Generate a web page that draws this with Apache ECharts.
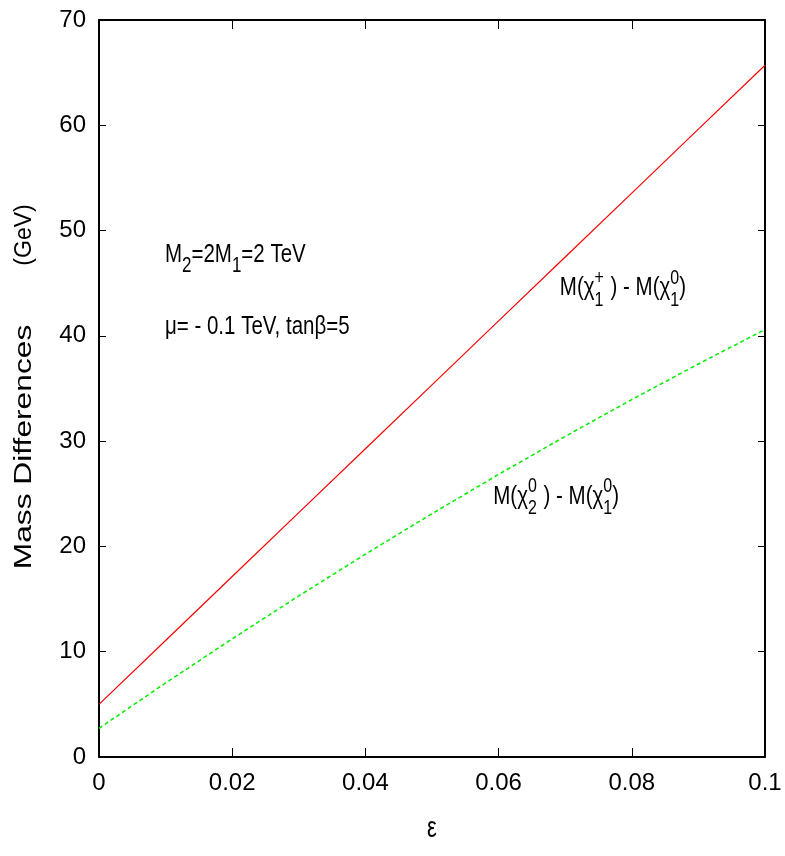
<!DOCTYPE html>
<html><head><meta charset="utf-8">
<script src="https://cdn.jsdelivr.net/npm/echarts@6/dist/echarts.min.js"></script>
<style>html,body{margin:0;padding:0;background:#fff}#c{width:785px;height:856px}</style>
</head><body><div id="c"></div>
<script>
// ---- data ----
const epsilon = [0, 0.01, 0.02, 0.03, 0.04, 0.05, 0.06, 0.07, 0.08, 0.09, 0.1];
const charginoSplit = [5.0, 11.07, 17.14, 23.21, 29.28, 35.35, 41.42, 47.49, 53.56, 59.63, 65.7];
const neutralinoSplit = [2.72, 7.03, 11.22, 15.30, 19.26, 23.11, 26.84, 30.45, 33.95, 37.33, 40.6];
const xTickLabels = ['0', '0.02', '0.04', '0.06', '0.08', '0.1'];
const yTickLabels = ['0', '10', '20', '30', '40', '50', '60', '70'];
const xName = 'ε';
const yNameMain = 'Mass Differences';
const yNameUnit = '(GeV)';

const SANS = "'Liberation Sans',Arial,Helvetica,sans-serif";
const SY = 1.3; // vertical stretch of the reference lettering

const chart = echarts.init(document.getElementById('c'), null, {renderer: 'canvas'});

const axisCommon = {
  type: 'value',
  axisLine: {show: true, onZero: false, lineStyle: {color: '#000', width: 2}},
  axisTick: {show: true, inside: true, length: 9, lineStyle: {color: '#000', width: 1}},
  splitLine: {show: false}
};

chart.setOption({
  animation: false,
  backgroundColor: '#fff',
  grid: {left: 99, right: 20, top: 20, bottom: 99, containLabel: false},
  xAxis: [
    Object.assign({}, axisCommon, {
      min: 0, max: 0.1, interval: 0.02, position: 'bottom',
      axisLabel: {margin: 14, color: '#000', fontFamily: SANS, fontSize: 24,
        formatter: v => xTickLabels[Math.round(v / 0.02)]}
    }),
    Object.assign({}, axisCommon, {
      min: 0, max: 0.1, interval: 0.02, position: 'top', axisLabel: {show: false}
    })
  ],
  yAxis: [
    Object.assign({}, axisCommon, {
      min: 0, max: 70, interval: 10, position: 'left',
      axisTick: {show: true, inside: true, length: 7, lineStyle: {color: '#000', width: 1}},
      axisLabel: {margin: 13, color: '#000', fontFamily: SANS, fontSize: 24,
        formatter: v => yTickLabels[Math.round(v / 10)]}
    }),
    Object.assign({}, axisCommon, {
      min: 0, max: 70, interval: 10, position: 'right',
      axisTick: {show: true, inside: true, length: 7, lineStyle: {color: '#000', width: 1}},
      axisLabel: {show: false}
    })
  ],
  series: [
    {
      type: 'line', name: 'chargino', xAxisIndex: 0, yAxisIndex: 0,
      data: epsilon.map((e, i) => [e, charginoSplit[i]]),
      showSymbol: false, symbol: 'none',
      lineStyle: {color: '#ff0000', width: 1.2, type: 'solid'}
    },
    {
      type: 'line', name: 'neutralino', xAxisIndex: 0, yAxisIndex: 0,
      data: epsilon.map((e, i) => [e, neutralinoSplit[i]]),
      showSymbol: false, symbol: 'none',
      lineStyle: {color: '#00ee00', width: 1.5, type: [4, 3]}
    }
  ]
});

// ---- annotations ----
const cv = document.createElement('canvas').getContext('2d');
function measure(t, size) { cv.font = size + 'px ' + SANS; return cv.measureText(t).width; }
function txt(x, baseline, t, size) {
  return {type: 'text', x: x, y: baseline - 0.33 * size * SY, scaleY: SY, silent: true,
    style: {text: t, font: size + 'px ' + SANS, fill: '#000', textAlign: 'left', textVerticalAlign: 'middle', verticalAlign: 'middle'}};
}
function buildLabel(dataPt, items, main, small, supUp, subDown) {
  const p = chart.convertToPixel({gridIndex: 0}, dataPt);
  let x = p[0]; const by = p[1];
  const els = [];
  items.forEach(it => {
    if (typeof it === 'string') {
      els.push(txt(x, by, it, main));
      x += measure(it, main);
    } else {
      let w = 0;
      if (it.sup) { els.push(txt(x, by - supUp, it.sup, small)); w = Math.max(w, measure(it.sup, small)); }
      if (it.sub) { els.push(txt(x, by + subDown, it.sub, small)); w = Math.max(w, measure(it.sub, small)); }
      x += w + (it.pad || 0);
    }
  });
  return els;
}

let graphics = [];
graphics = graphics.concat(buildLabel([0.0099, 46.9],
  ['M', {sub: '2'}, '=2M', {sub: '1'}, '=2 TeV'], 20.5, 17, 0, 10));
graphics = graphics.concat(buildLabel([0.0099, 40.0],
  ['μ= - 0.1 TeV, tanβ=5'], 20.5, 17, 0, 0));
graphics = graphics.concat(buildLabel([0.0692, 43.7],
  ['M(χ', {sup: '+', sub: '1', pad: 1}, ' ) - M(χ', {sup: '0', sub: '1', pad: 0}, ')'], 20.5, 16, 12, 10));
graphics = graphics.concat(buildLabel([0.0592, 23.9],
  ['M(χ', {sup: '0', sub: '2', pad: 1}, ' ) - M(χ', {sup: '0', sub: '1', pad: 0}, ')'], 20.5, 16, 12, 10));

// axis names
const xc = chart.convertToPixel({gridIndex: 0}, [0.05, 35]);
graphics.push({type: 'text', x: xc[0], y: 829, scaleY: SY, silent: true,
  style: {text: xName, font: '22px ' + SANS, fill: '#000', textAlign: 'center', textVerticalAlign: 'middle', verticalAlign: 'middle'}});
graphics.push({type: 'text', x: 25, y: 447, rotation: Math.PI / 2, scaleX: 1.38, silent: true,
  style: {text: yNameMain, font: '23px ' + SANS, fill: '#000', textAlign: 'center', textVerticalAlign: 'middle', verticalAlign: 'middle'}});
graphics.push({type: 'text', x: 25, y: 235, rotation: Math.PI / 2, scaleX: 1.0, silent: true,
  style: {text: yNameUnit, font: '23px ' + SANS, fill: '#000', textAlign: 'center', textVerticalAlign: 'middle', verticalAlign: 'middle'}});

chart.setOption({graphic: {elements: graphics}});
</script>
</body></html>
